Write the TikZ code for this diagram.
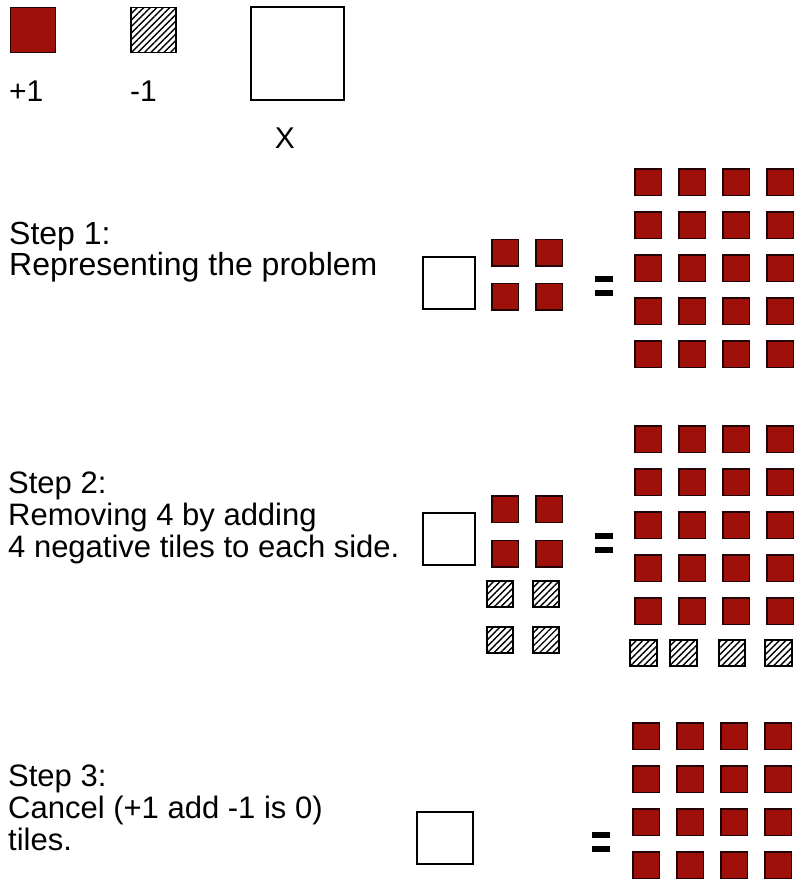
\documentclass[tikz,border=0pt]{standalone}
\usepackage{fontspec}
\setmainfont{Liberation Sans}
\usetikzlibrary{patterns.meta}
\definecolor{TileRed}{HTML}{A0100A}

\tikzset{
  postile/.style={draw=black!80!TileRed, fill=TileRed, line width=1.5pt, minimum size=26.5pt, inner sep=0pt},
  negtile/.style={draw=black, line width=1.6pt, minimum size=26.5pt, inner sep=0pt,
    pattern={Lines[angle=45,distance=4.6pt,line width=1.4pt]}},
  xtile/.style={draw=black, line width=2pt, minimum size=52pt, inner sep=0pt},
  eqsign/.style={minimum width=18pt, minimum height=20pt, inner sep=0pt,
    path picture={
      \fill (path picture bounding box.north west) rectangle ++(18pt,-6pt);
      \fill (path picture bounding box.south west) rectangle ++(18pt,6pt);
    }},
  steptext/.style={anchor=north west, align=left, inner sep=0pt, font=\fontsize{31}{32}\selectfont},
  legendtext/.style={anchor=base west, inner sep=0pt, font=\fontsize{30}{32}\selectfont},
}

\begin{document}
\begin{tikzpicture}[x=1pt, y=-1pt]
    \useasboundingbox (0,0) rectangle (801,880);

    % Legende
    \node[postile, minimum size=45pt] (legpos) at (33,30) {};
    \node[negtile, minimum size=45pt] (legneg) at (153.5,30) {};
    \node[xtile, minimum size=93pt] (legx) at (297.5,53.5) {};
    \node[legendtext] (labpos) at (9,102) {+1};
    \node[legendtext] (labneg) at (130,102) {-1};
    \node[legendtext, anchor=base] (labx) at (285,148) {X};

    % Step 1
    \node[steptext, font=\fontsize{32}{28.5}\selectfont] (txtone) at (9,222) {Step 1:\\Representing the problem};
    \node[xtile] (xone) at (449,282.5) {};
    \foreach \c in {0,1} \foreach \r in {0,1}
      \node[postile] (onel\c\r) at ({505+44*\c},{252.5+44*\r}) {};
    \node[eqsign] (eqone) at (604,286) {};
    \foreach \c in {0,...,3} \foreach \r in {0,...,4}
      \node[postile] (oner\c\r) at ({648+44*\c},{182+43*\r}) {};

    % Step 2
    \node[steptext] (txttwo) at (8,472) {Step 2:\\Removing 4 by adding\\4 negative tiles to each side.};
    \node[xtile] (xtwo) at (449,538.5) {};
    \foreach \c in {0,1} \foreach \r in {0,1}
      \node[postile] (twol\c\r) at ({505+44*\c},{509+44.5*\r}) {};
    \foreach \c in {0,1} \foreach \r in {0,1}
      \node[negtile] (twon\c\r) at ({500+46*\c},{594+46*\r}) {};
    \node[eqsign] (eqtwo) at (604,542.5) {};
    \foreach \c in {0,...,3} \foreach \r in {0,...,4}
      \node[postile] (twor\c\r) at ({648+44*\c},{439+43*\r}) {};
    \foreach \x [count=\i] in {643.5,683.5,732,778.5}
      \node[negtile] (twom\i) at (\x,653) {};

    % Step 3
    \node[steptext] (txtthree) at (8,765) {Step 3:\\Cancel (+1 add -1 is 0)\\tiles.};
    \node[xtile, minimum width=56pt] (xthree) at (444.5,837.5) {};
    \node[eqsign] (eqthree) at (601,842) {};
    \foreach \c in {0,...,3} \foreach \r in {0,...,3}
      \node[postile] (threer\c\r) at ({646+44*\c},{736+43*\r}) {};
  \end{tikzpicture}
\end{document}
